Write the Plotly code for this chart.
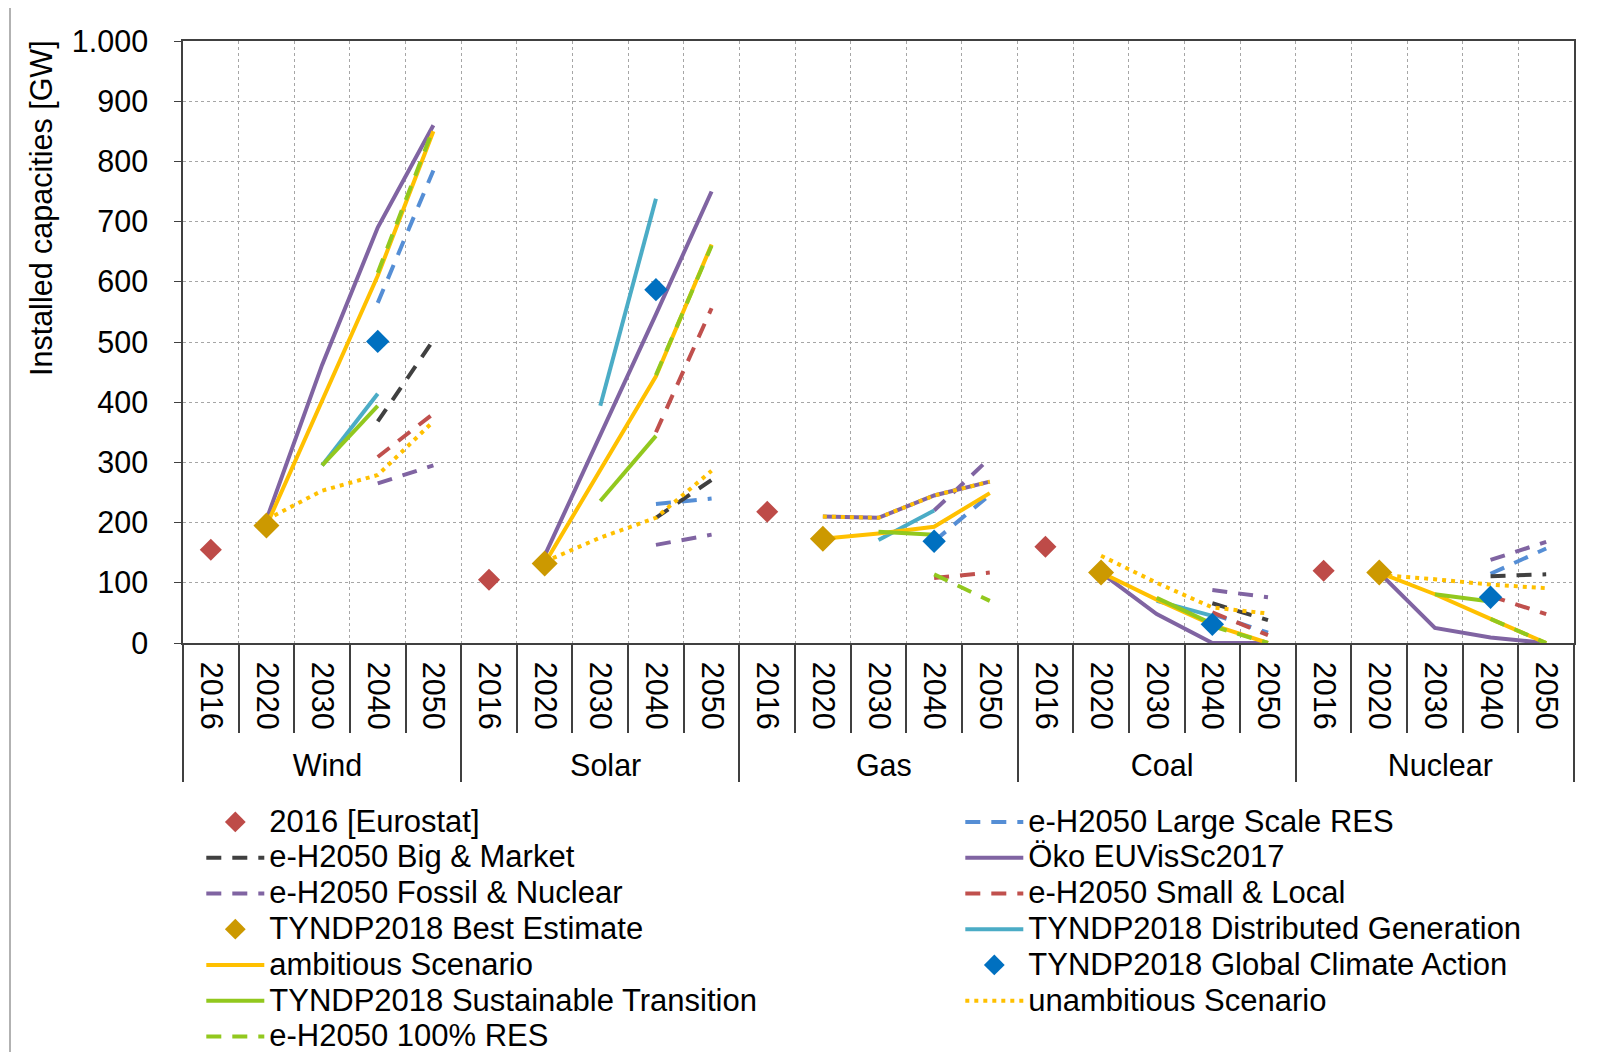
import plotly.graph_objects as go

groups = ["Wind", "Solar", "Gas", "Coal", "Nuclear"]
years = ["2016", "2020", "2030", "2040", "2050"]

# values per group: [2016, 2020, 2030, 2040, 2050]
N = None
eurostat_2016 = [155, N, N, N, N,  105, N, N, N, N,  218, N, N, N, N,  160, N, N, N, N,  120, N, N, N, N]
eh_large_scale = [N, N, N, 565, 785,  N, N, N, 231, 240,  N, N, N, 169, 246,  N, N, N, 48, 17,  N, N, N, 115, 157]
eh_big_market = [N, N, N, 368, 503,  N, N, N, 208, 271,  N, N, N, N, N,  N, N, N, 66, 38,  N, N, N, 111, 114]
oeko_euvis = [N, 205, 462, 690, 860,  N, 145, 345, 546, 750,  N, 210, 208, 245, 268,  N, 117, 48, 0, 0,  N, 117, 25, 9, 0]
eh_fossil_nuclear = [N, N, N, 265, 295,  N, N, N, 163, 180,  N, N, N, 220, 307,  N, N, N, 88, 76,  N, N, N, 138, 168]
eh_small_local = [N, N, N, 309, 381,  N, N, N, 350, 556,  N, N, N, 108, 117,  N, N, N, 51, 13,  N, N, N, 78, 48]
tyndp_best_estimate = [N, 195, N, N, N,  N, 132, N, N, N,  N, 173, N, N, N,  N, 117, N, N, N,  N, 117, N, N, N]
tyndp_distributed = [N, N, 295, 414, N,  N, N, 394, 738, N,  N, N, 171, 220, N,  N, N, 70, 45, N,  N, N, N, N, N]
ambitious = [N, 195, 402, 610, 850,  N, 132, 288, 443, 662,  N, 173, 182, 193, 249,  N, 117, 72, 30, 0,  N, 117, 81, 40, 0]
tyndp_global_climate = [N, N, N, 501, N,  N, N, N, 587, N,  N, N, N, 169, N,  N, N, N, 31, N,  N, N, N, 76, N]
tyndp_sustainable = [N, N, 295, 394, N,  N, N, 236, 344, N,  N, N, 185, 180, N,  N, N, 75, 32, N,  N, N, 81, 69, N]
unambitious = [N, 205, 253, 279, 368,  N, 135, 175, 208, 286,  N, 210, 208, 245, 268,  N, 145, 100, 59, 49,  N, 113, 106, 97, 91]
eh_100_res = [N, N, N, 615, 855,  N, N, N, 445, 660,  N, N, N, 114, 70,  N, N, N, 28, 0,  N, N, N, 40, 0]

y_ticks = [0, 100, 200, 300, 400, 500, 600, 700, 800, 900, 1000]
y_ticktext = ["0", "100", "200", "300", "400", "500", "600", "700", "800", "900", "1.000"]

xg = [g for g in groups for _ in years]
xy = [y for _ in groups for y in years]
X = [xg, xy]
n_cat = len(xy)

FONT = "Arial, Liberation Sans, sans-serif"
TXT = 30.5
LEG_TXT = 31
LW = 4
DASH = "15px,11px"

fig = go.Figure()

def leg(name):
    return "<span style='font-size:%gpx'>%s</span>" % (LEG_TXT, name)

def line(name, vals, color, dash="solid", rank=0):
    fig.add_trace(go.Scatter(x=X, y=vals, name=leg(name), mode="lines",
                             line=dict(color=color, width=LW, dash=dash),
                             legendrank=rank))

def mark(name, vals, color, size, rank=0):
    fig.add_trace(go.Scatter(x=X, y=vals, name=leg(name), mode="markers",
                             marker=dict(symbol="diamond", color=color, size=size),
                             legendrank=rank))

line("e-H2050 Large Scale RES", eh_large_scale, "#558ED5", DASH, 2)
line("e-H2050 Big & Market", eh_big_market, "#404040", DASH, 3)
line("Öko EUVisSc2017", oeko_euvis, "#8064A2", "solid", 4)
line("e-H2050 Fossil & Nuclear", eh_fossil_nuclear, "#8064A2", DASH, 5)
line("e-H2050 Small & Local", eh_small_local, "#C0504D", DASH, 6)
line("TYNDP2018 Distributed Generation", tyndp_distributed, "#4BACC6", "solid", 8)
line("ambitious Scenario", ambitious, "#FFC000", "solid", 9)
line("TYNDP2018 Sustainable Transition", tyndp_sustainable, "#92C81E", "solid", 11)
line("unambitious Scenario", unambitious, "#FFC000", "4px,5px", 12)
line("e-H2050 100% RES", eh_100_res, "#92C81E", DASH, 13)
mark("2016 [Eurostat]", eurostat_2016, "#BE4B48", 17, 1)
mark("TYNDP2018 Best Estimate", tyndp_best_estimate, "#CC9900", 20, 7)
mark("TYNDP2018 Global Climate Action", tyndp_global_climate, "#0070C0", 18, 10)

# empty helper trace so that the overlay axis carrying the year separators is drawn
fig.add_trace(go.Scatter(x=[], y=[], xaxis="x2", yaxis="y", showlegend=False,
                         hoverinfo="skip"))

# target geometry in page pixels (page has an 8px body margin)
OFF = 8
PL, PR, PT, PB = 183, 1574, 41, 643
W, H = 1612, 1052
L, T = PL - OFF, PT - OFF
R, B = W - (PR - OFF), H - (PB - OFF)
pw, ph = PR - PL, PB - PT

def px(xpage):
    return (xpage - PL) / pw

def py(ypage):
    return (PB - ypage) / ph

fig.update_layout(
    width=W, height=H,
    template="none",
    paper_bgcolor="white", plot_bgcolor="white",
    margin=dict(l=L, r=R, t=T, b=B, autoexpand=False),
    font=dict(family=FONT, size=TXT, color="black"),
    showlegend=True,
    legend=dict(orientation="h", x=-0.0005, y=py(780), xanchor="left", yanchor="top",
                entrywidth=686, entrywidthmode="pixels", font=dict(size=25.2),
                itemwidth=58,
                borderwidth=19, bordercolor="rgba(0,0,0,0)",
                tracegroupgap=0, bgcolor="rgba(0,0,0,0)"),
    xaxis=dict(type="multicategory", range=[-0.5, n_cat - 0.5],
               tickson="boundaries", showgrid=True,
               gridcolor="#A6A6A6", griddash="dot", gridwidth=1,
               showline=True, linecolor="#404040", linewidth=1.5, mirror=True,
               tickangle=90, tickfont=dict(size=TXT), ticks="",
               ticklabelstandoff=11,
               showdividers=True, dividercolor="#404040", dividerwidth=1.5,
               zeroline=False),
    xaxis2=dict(overlaying="x", anchor="y", side="bottom", range=[-0.5, n_cat - 0.5],
                tickmode="array", tickvals=[i + 0.5 for i in range(n_cat - 1)],
                ticks="outside", ticklen=89, tickcolor="#404040", tickwidth=1.5,
                showticklabels=False, showgrid=False, showline=False, zeroline=False),
    yaxis=dict(range=[0, 1000], tickmode="array", tickvals=y_ticks, ticktext=y_ticktext,
               showgrid=True, gridcolor="#A6A6A6", griddash="dot", gridwidth=1,
               ticks="outside", ticklen=7, tickcolor="#404040",
               showline=True, linecolor="#404040", linewidth=1.5, mirror=True,
               tickfont=dict(size=TXT), ticklabelstandoff=20, zeroline=False),
    annotations=[dict(text="Installed capacities [GW]", textangle=-90,
                      xref="paper", yref="paper", x=px(41), y=py(208),
                      xanchor="center", yanchor="middle", showarrow=False,
                      font=dict(size=TXT))],
    shapes=[dict(type="rect", xref="paper", yref="paper",
                 x0=px(10), x1=px(1640), y0=py(1080), y1=py(5),
                 line=dict(color="#999999", width=1.5), fillcolor="rgba(0,0,0,0)",
                 layer="below")],
)

fig.write_html("out.html")
